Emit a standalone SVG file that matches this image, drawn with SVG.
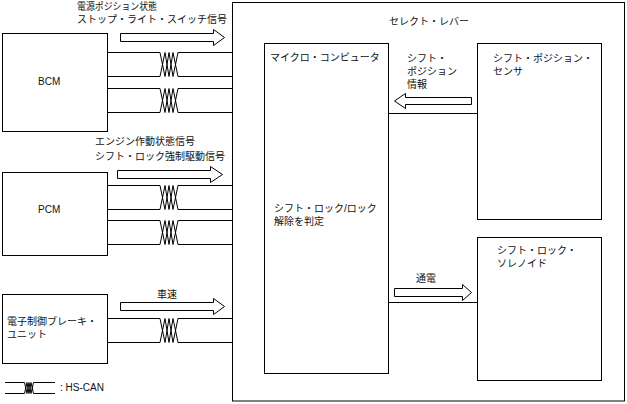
<svg xmlns="http://www.w3.org/2000/svg" width="627" height="404" viewBox="0 0 627 404">
<style>
.box{fill:#fff;stroke:#000;stroke-width:1}
.ln{fill:none;stroke:#000;stroke-width:1}
.arr{fill:#fff;stroke:#000;stroke-width:1;stroke-linejoin:miter}
.tw{fill:none;stroke:#000;stroke-width:1;vector-effect:non-scaling-stroke}
text{font-family:"Liberation Sans","Noto Sans CJK JP",sans-serif;font-size:10px;fill:#111}
</style>
<defs>
<path id="twist" class="tw" d="M0,0 L3,0 L8,24 L12,0 L16,24 L21,0 L24,0 M0,24 L3,24 L8,0 L12,24 L16,0 L21,24 L24,24"/>
</defs>
<rect width="627" height="404" fill="#fff"/>

<g id="select-lever">
<rect class="box" x="232.5" y="2.5" width="392" height="398.5"/>
<text x="389" y="25">セレクト・レバー</text>
</g>

<g id="bcm">
<rect class="box" x="2.5" y="33.5" width="105" height="98"/>
<text x="38" y="85">BCM</text>
</g>

<g id="pcm">
<rect class="box" x="2.5" y="172.5" width="105" height="83"/>
<text x="38" y="213">PCM</text>
</g>

<g id="brake-unit">
<rect class="box" x="2.5" y="294.5" width="105" height="69"/>
<text x="7" y="325">電子制御ブレーキ・</text>
<text x="7" y="338">ユニット</text>
</g>

<g id="microcomputer">
<rect class="box" x="264.5" y="43.5" width="124" height="330"/>
<text x="270" y="61">マイクロ・コンピュータ</text>
<text x="274" y="212">シフト・ロック/ロック</text>
<text x="274" y="225">解除を判定</text>
</g>

<g id="position-sensor">
<rect class="box" x="477.5" y="43.5" width="124" height="176"/>
<text x="493" y="62">シフト・ポジション・</text>
<text x="493" y="75">センサ</text>
</g>

<g id="lock-solenoid">
<rect class="box" x="477.5" y="237.5" width="124" height="143"/>
<text x="497" y="254">シフト・ロック・</text>
<text x="497" y="267">ソレノイド</text>
</g>

<g id="connectors">
<path class="ln" d="M107.5,52.5 H157 M181,52.5 H232.5 M107.5,76.5 H157 M181,76.5 H232.5 M107.5,88.5 H157 M181,88.5 H232.5 M107.5,112.5 H157 M181,112.5 H232.5"/>
<use href="#twist" transform="translate(157,52.5)"/>
<use href="#twist" transform="translate(157,88.5)"/>
<path class="ln" d="M107.5,185.5 H157 M181,185.5 H232.5 M107.5,209.5 H157 M181,209.5 H232.5 M107.5,220.5 H157 M181,220.5 H232.5 M107.5,244.5 H157 M181,244.5 H232.5"/>
<use href="#twist" transform="translate(157,185.5)"/>
<use href="#twist" transform="translate(157,220.5)"/>
<path class="ln" d="M107.5,318.5 H157 M181,318.5 H232.5 M107.5,342.5 H157 M181,342.5 H232.5"/>
<use href="#twist" transform="translate(157,318.5)"/>
<path class="ln" d="M388.5,113.5 H477.5 M388.5,302.5 H477.5"/>

<polygon class="arr" points="120.5,33.5 213.5,33.5 213.5,29.5 224.5,37.5 213.5,45.5 213.5,41.5 120.5,41.5"/>
<text x="77" y="10" textLength="80" lengthAdjust="spacingAndGlyphs">電源ポジション状態</text>
<text x="77" y="23">ストップ・ライト・スイッチ信号</text>

<polygon class="arr" points="117.5,170.5 210.5,170.5 210.5,166.5 222.5,174.5 210.5,182.5 210.5,178.5 117.5,178.5"/>
<text x="95" y="145">エンジン作動状態信号</text>
<text x="95" y="160">シフト・ロック強制駆動信号</text>

<polygon class="arr" points="120.5,302.5 213.5,302.5 213.5,298.5 224.5,306.5 213.5,314.5 213.5,310.5 120.5,310.5"/>
<text x="157" y="298">車速</text>

<polygon class="arr" points="471.5,97.5 405.5,97.5 405.5,93.5 394.5,101 405.5,108.5 405.5,104.5 471.5,104.5"/>
<text x="407" y="62">シフト・</text>
<text x="407" y="75">ポジション</text>
<text x="407" y="88">情報</text>

<polygon class="arr" points="394.5,288.5 462.5,288.5 462.5,284.5 471.5,292.5 462.5,300.5 462.5,296.5 394.5,296.5"/>
<text x="416" y="282">通電</text>
</g>

<g id="legend">
<path class="ln" d="M5,382.5 H23 M35,382.5 H55 M5,393.5 H23 M35,393.5 H55"/>
<use href="#twist" transform="translate(23,382.5) scale(0.5,0.4583)"/>
<text x="60" y="391">: HS-CAN</text>
</g>
</svg>
